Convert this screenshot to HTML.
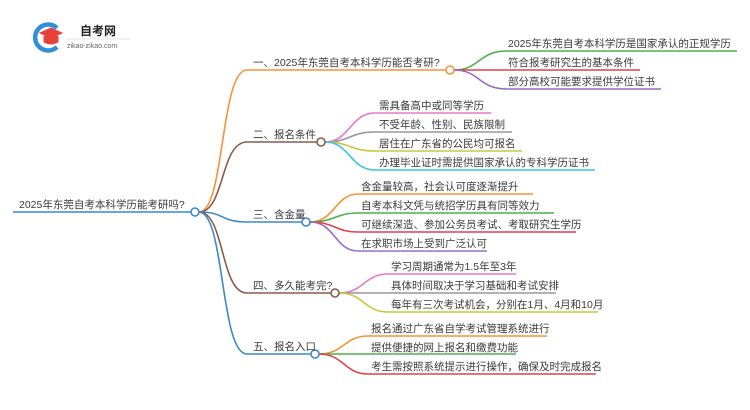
<!DOCTYPE html>
<html><head><meta charset="utf-8"><style>
body{margin:0;background:#fff;}
svg{display:block;}
text{font-family:"Liberation Sans","Noto Sans CJK SC",sans-serif;font-size:10.5px;fill:#3a3a3a;}
</style></head><body>
<svg width="750" height="410" viewBox="0 0 750 410" xmlns="http://www.w3.org/2000/svg">
<g fill="none" stroke-width="1.6">
<path d="M57 28 A13 13 0 1 0 57 47" stroke="#2f8fd8" stroke-width="4.5"/>
<path d="M40 33 L51 28 L62 33 L51 38 Z" fill="#e8413c" stroke="#e8413c" stroke-width="1"/>
<path d="M44 36 L44 42 Q51 46 58 42 L58 36" fill="#e8413c" stroke="#e8413c" stroke-width="1"/>
<line x1="66" y1="39" x2="130" y2="39" stroke="#ddd" stroke-width="0.8"/>
<line x1="13" y1="212" x2="191" y2="212" stroke="#3a8ac8"/>
<path d="M199 212 C225 212 220 70 247 70 L446 70" stroke="#f7923a"/>
<path d="M199 212 C225 212 220 142 247 142 L317 142" stroke="#8c5a4a"/>
<path d="M199 212 C225 212 220 222 247 222 L302 222" stroke="#3a8ac8"/>
<path d="M199 212 C225 212 220 293 247 293 L331 293" stroke="#8c5a4a"/>
<path d="M199 212 C225 212 220 354 247 354 L311 354" stroke="#3a8ac8"/>
<path d="M454 70 C480 70 478 51 507 51 L737 51" stroke="#4cb04c"/>
<path d="M454 70 L640 70" stroke="#e0404a"/>
<path d="M454 70 C480 70 478 89 507 89 L661 89" stroke="#9b6ac8"/>
<path d="M325 142 C350 142 350 113 375 113 L491 113" stroke="#e878c8"/>
<path d="M325 142 C350 142 350 132 375 132 L512 132" stroke="#999"/>
<path d="M325 142 C350 142 350 151 375 151 L522 151" stroke="#c8c840"/>
<path d="M325 142 C350 142 350 170 375 170 L595 170" stroke="#30c8e0"/>
<path d="M310 222 C335 222 335 194 358 194 L533 194" stroke="#f7923a"/>
<path d="M310 222 C335 222 335 213 358 213 L554 213" stroke="#4cb04c"/>
<path d="M310 222 C335 222 335 232 358 232 L576 232" stroke="#e0404a"/>
<path d="M310 222 C335 222 335 251 358 251 L487 251" stroke="#9b6ac8"/>
<path d="M339 293 C364 293 364 274 388 274 L516 274" stroke="#e878c8"/>
<path d="M339 293 L556 293" stroke="#999"/>
<path d="M339 293 C364 293 364 312 388 312 L598 312" stroke="#c8c840"/>
<path d="M319 354 C344 354 344 336 368 336 L547 336" stroke="#f7923a"/>
<path d="M319 354 L516 354" stroke="#4cb04c"/>
<path d="M319 354 C344 354 344 374 368 374 L596 374" stroke="#e0404a"/>
<circle cx="195" cy="212" r="4" fill="#fff" stroke="#3a8ac8"/>
<circle cx="450" cy="70" r="4" fill="#fff" stroke="#f7923a"/>
<circle cx="321" cy="142" r="4" fill="#fff" stroke="#8c5a4a"/>
<circle cx="306" cy="222" r="4" fill="#fff" stroke="#3a8ac8"/>
<circle cx="335" cy="293" r="4" fill="#fff" stroke="#8c5a4a"/>
<circle cx="315" cy="354" r="4" fill="#fff" stroke="#3a8ac8"/>
</g>
<text x="80" y="35" style="font-size:12px;font-weight:bold;fill:#222">自考网</text>
<text x="67" y="48" style="font-size:7px;fill:#666">zikao-zikao.com</text>
<text x="19" y="208">2025年东莞自考本科学历能考研吗?</text>
<text x="253" y="66">一、2025年东莞自考本科学历能否考研?</text>
<text x="253" y="138">二、报名条件</text>
<text x="253" y="218">三、含金量</text>
<text x="253" y="289">四、多久能考完?</text>
<text x="253" y="350">五、报名入口</text>
<text x="508" y="47">2025年东莞自考本科学历是国家承认的正规学历</text>
<text x="508" y="66">符合报考研究生的基本条件</text>
<text x="508" y="85">部分高校可能要求提供学位证书</text>
<text x="379" y="109">需具备高中或同等学历</text>
<text x="379" y="128">不受年龄、性别、民族限制</text>
<text x="379" y="147">居住在广东省的公民均可报名</text>
<text x="379" y="166">办理毕业证时需提供国家承认的专科学历证书</text>
<text x="361" y="190">含金量较高，社会认可度逐渐提升</text>
<text x="361" y="209">自考本科文凭与统招学历具有同等效力</text>
<text x="361" y="228">可继续深造、参加公务员考试、考取研究生学历</text>
<text x="361" y="247">在求职市场上受到广泛认可</text>
<text x="391" y="270">学习周期通常为1.5年至3年</text>
<text x="391" y="289">具体时间取决于学习基础和考试安排</text>
<text x="391" y="308">每年有三次考试机会，分别在1月、4月和10月</text>
<text x="371" y="332">报名通过广东省自学考试管理系统进行</text>
<text x="371" y="351">提供便捷的网上报名和缴费功能</text>
<text x="371" y="370">考生需按照系统提示进行操作，确保及时完成报名</text>
</svg>
</body></html>
